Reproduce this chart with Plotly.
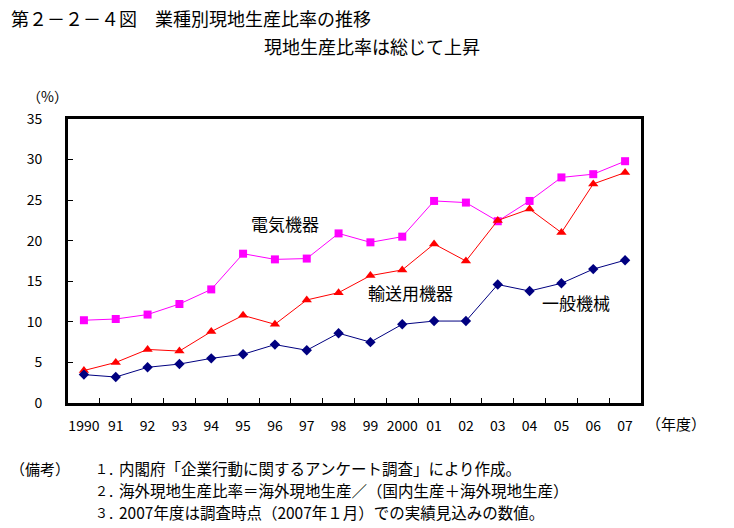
import plotly.graph_objects as go

years = ["1990", "91", "92", "93", "94", "95", "96", "97", "98", "99",
         "2000", "01", "02", "03", "04", "05", "06", "07"]
denki = [10.2, 10.35, 10.9, 12.2, 14.0, 18.4, 17.7, 17.8, 20.9, 19.8,
         20.5, 24.9, 24.7, 22.4, 24.9, 27.8, 28.2, 29.8]
yuso = [4.0, 5.0, 6.6, 6.4, 8.8, 10.8, 9.7, 12.7, 13.6, 15.7,
        16.4, 19.6, 17.5, 22.5, 23.9, 21.0, 27.0, 28.4]
ippan = [3.5, 3.2, 4.4, 4.8, 5.5, 6.0, 7.2, 6.5, 8.6, 7.5,
         9.7, 10.1, 10.1, 14.6, 13.8, 14.75, 16.5, 17.6]
y_ticks = [0, 5, 10, 15, 20, 25, 30, 35]

FONT = "Noto Sans CJK JP"
W, H = 734, 528
L, R, T, B = 68, 641, 119, 403


def px(x):
    return (x - L) / (R - L)


def py(y):
    return (B - y) / (B - T)


fig = go.Figure()
fig.add_trace(go.Scatter(x=years, y=denki, mode="lines+markers", name="電気機器",
                         line=dict(color="#FF00FF", width=1),
                         marker=dict(symbol="square", size=8, color="#FF00FF")))
fig.add_trace(go.Scatter(x=years, y=yuso, mode="lines+markers", name="輸送用機器",
                         line=dict(color="#FF0000", width=1),
                         marker=dict(symbol="triangle-up", size=9, color="#FF0000")))
fig.add_trace(go.Scatter(x=years, y=ippan, mode="lines+markers", name="一般機械",
                         line=dict(color="#000080", width=1),
                         marker=dict(symbol="diamond", size=8, color="#000080")))

fig.update_xaxes(type="category", range=[-0.5, 17.5], showline=True, linecolor="black",
                 linewidth=3, mirror=True, ticks="inside", ticklen=5, tickcolor="black",
                 tickwidth=1, tickson="boundaries", showgrid=False, zeroline=False,
                 tickangle=0,
                 tickfont=dict(family=FONT, size=14, color="black"), ticklabelstandoff=8)
fig.update_yaxes(range=[0, 35], tickvals=y_ticks, showline=True, linecolor="black",
                 linewidth=3, mirror=True, ticks="inside", ticklen=5, tickcolor="black",
                 tickwidth=1, showgrid=False, zeroline=False,
                 tickfont=dict(family=FONT, size=14, color="black"), ticklabelstandoff=20)

ann = []


def add(text, x, y, size=15, xanchor="left", yanchor="middle"):
    ann.append(dict(text=text, x=px(x), y=py(y), xref="paper", yref="paper",
                    xanchor=xanchor, yanchor=yanchor, showarrow=False,
                    font=dict(family=FONT, size=size, color="black")))


add("第２－２－４図　業種別現地生産比率の推移", 9, 18, size=18)
add("現地生産比率は総じて上昇", 262, 46, size=18)
add("（%）", 47, 96, size=14, xanchor="center")
add("（年度）", 644, 423, size=15)
add("電気機器", 285, 223, size=17, xanchor="center")
add("輸送用機器", 410, 292, size=17, xanchor="center")
add("一般機械", 576, 302, size=17, xanchor="center")
add("（備考）", 8, 468, size=15)
add("１．", 93, 468, size=13)
add("２．", 93, 490, size=13)
add("３．", 93, 512, size=13)
add("内閣府「企業行動に関するアンケート調査」により作成。", 117, 468, size=15.5)
add("海外現地生産比率＝海外現地生産／（国内生産＋海外現地生産）", 117, 490, size=15.5)
add("2007年度は調査時点（2007年１月）での実績見込みの数値。", 117, 512, size=15.5)

fig.update_layout(width=W, height=H, margin=dict(l=L, r=W - R, t=T, b=H - B),
                  paper_bgcolor="white", plot_bgcolor="white", showlegend=False,
                  annotations=ann)

fig.write_html("out.html")
